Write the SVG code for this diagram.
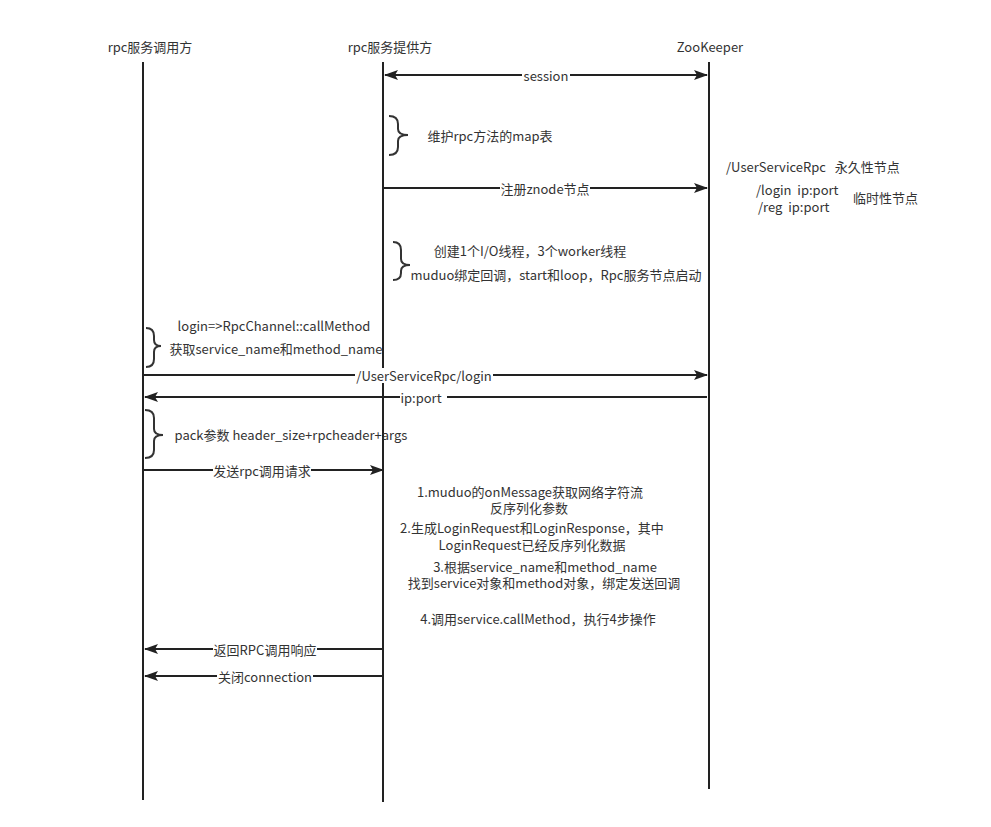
<svg xmlns="http://www.w3.org/2000/svg" width="991" height="827" viewBox="0 0 991 827">
<style>
text{font-family:"Noto Sans CJK SC","Liberation Sans",sans-serif;font-size:13px;fill:#333;white-space:pre;}
.c{text-anchor:middle;}
.life{stroke:#222;stroke-width:2;fill:none;}
.msg{stroke:#222;stroke-width:2;fill:none;}
.brace{stroke:#333;stroke-width:2;fill:none;}
.bg{fill:#fff;}
</style>
<defs>
<marker id="ah" viewBox="0 0 14 10" refX="13" refY="5" markerWidth="14" markerHeight="10" markerUnits="userSpaceOnUse" orient="auto-start-reverse">
<path d="M0,0 L14,5 L0,10 L3,5 z" fill="#222"/>
</marker>
</defs>
<g id="lifelines">
<g id="caller"><text class="c" x="150" y="52">rpc服务调用方</text><line class="life" x1="143" y1="62" x2="143" y2="800"/></g>
<g id="provider"><text class="c" x="390" y="52">rpc服务提供方</text><line class="life" x1="383" y1="62" x2="383" y2="802"/></g>
<g id="zookeeper"><text class="c" x="710" y="52">ZooKeeper</text><line class="life" x1="709" y1="62" x2="709" y2="789"/></g>
</g>
<g id="connectors">
<line class="msg" x1="385" y1="75" x2="707" y2="75" marker-start="url(#ah)" marker-end="url(#ah)"/>
<rect class="bg" x="522" y="68" width="48" height="15"/><text class="c" x="546" y="81">session</text>
<line class="msg" x1="383" y1="188" x2="707" y2="188" marker-end="url(#ah)"/>
<rect class="bg" x="500" y="181" width="90" height="15"/><text class="c" x="545" y="194">注册znode节点</text>
<line class="msg" x1="143" y1="375" x2="707" y2="375" marker-end="url(#ah)"/>
<rect class="bg" x="355" y="368" width="138" height="15"/><text class="c" x="424" y="381">/UserServiceRpc/login</text>
<line class="msg" x1="707" y1="397" x2="145" y2="397" marker-end="url(#ah)"/>
<rect class="bg" x="400" y="390" width="47" height="15"/><text class="c" x="421" y="403">ip:port</text>
<line class="msg" x1="143" y1="470" x2="383" y2="470" marker-end="url(#ah)"/>
<rect class="bg" x="213" y="463" width="98" height="15"/><text class="c" x="262" y="476">发送rpc调用请求</text>
<line class="msg" x1="383" y1="649" x2="145" y2="649" marker-end="url(#ah)"/>
<rect class="bg" x="213" y="642" width="104" height="15"/><text class="c" x="265" y="655">返回RPC调用响应</text>
<line class="msg" x1="383" y1="676" x2="145" y2="676" marker-end="url(#ah)"/>
<rect class="bg" x="217" y="669" width="96" height="15"/><text class="c" x="265" y="682">关闭connection</text>
</g>
<g id="note-map">
<path class="brace" d="M389,116 Q398,116 398,124 L398,129 Q398,135 408,135 Q398,135 398,141 L398,147 Q398,155 389,155"/>
<text class="c" x="490" y="141">维护rpc方法的map表</text>
</g>
<g id="note-znode">
<text x="726" y="172">/UserServiceRpc   永久性节点</text>
<text x="756" y="195">/login  ip:port<tspan x="758" y="212">/reg  ip:port</tspan></text>
<text x="853" y="203">临时性节点</text>
</g>
<g id="note-start">
<path class="brace" d="M393,242 Q401,242 401,250 L401,259 Q401,265 410,265 Q401,265 401,271 L401,273 Q401,280 393,280"/>
<text class="c" x="530" y="256">创建1个I/O线程，3个worker线程</text>
<text class="c" x="556" y="280">muduo绑定回调，start和loop，Rpc服务节点启动</text>
</g>
<g id="note-call">
<path class="brace" d="M146,328 Q154,328 154,336 L154,340 Q154,346 161,346 Q154,346 154,352 L154,359 Q154,367 146,367"/>
<text class="c" x="274" y="331">login=&gt;RpcChannel::callMethod</text>
<text class="c" x="276" y="354">获取service_name和method_name</text>
</g>
<g id="note-pack">
<path class="brace" d="M145,410 Q154,410 154,418 L154,429 Q154,435 163,435 Q154,435 154,441 L154,450 Q154,458 145,458"/>
<text class="c" x="291" y="440">pack参数 header_size+rpcheader+args</text>
</g>
<g id="note-steps">
<text class="c" x="530" y="497">1.muduo的onMessage获取网络字符流<tspan x="529" y="513">反序列化参数</tspan></text>
<text class="c" x="532" y="533">2.生成LoginRequest和LoginResponse，其中<tspan x="532" y="550">LoginRequest已经反序列化数据</tspan></text>
<text class="c" x="545" y="572">3.根据service_name和method_name<tspan x="544" y="588">找到service对象和method对象，绑定发送回调</tspan></text>
<text class="c" x="538" y="624">4.调用service.callMethod，执行4步操作</text>
</g>
</svg>
